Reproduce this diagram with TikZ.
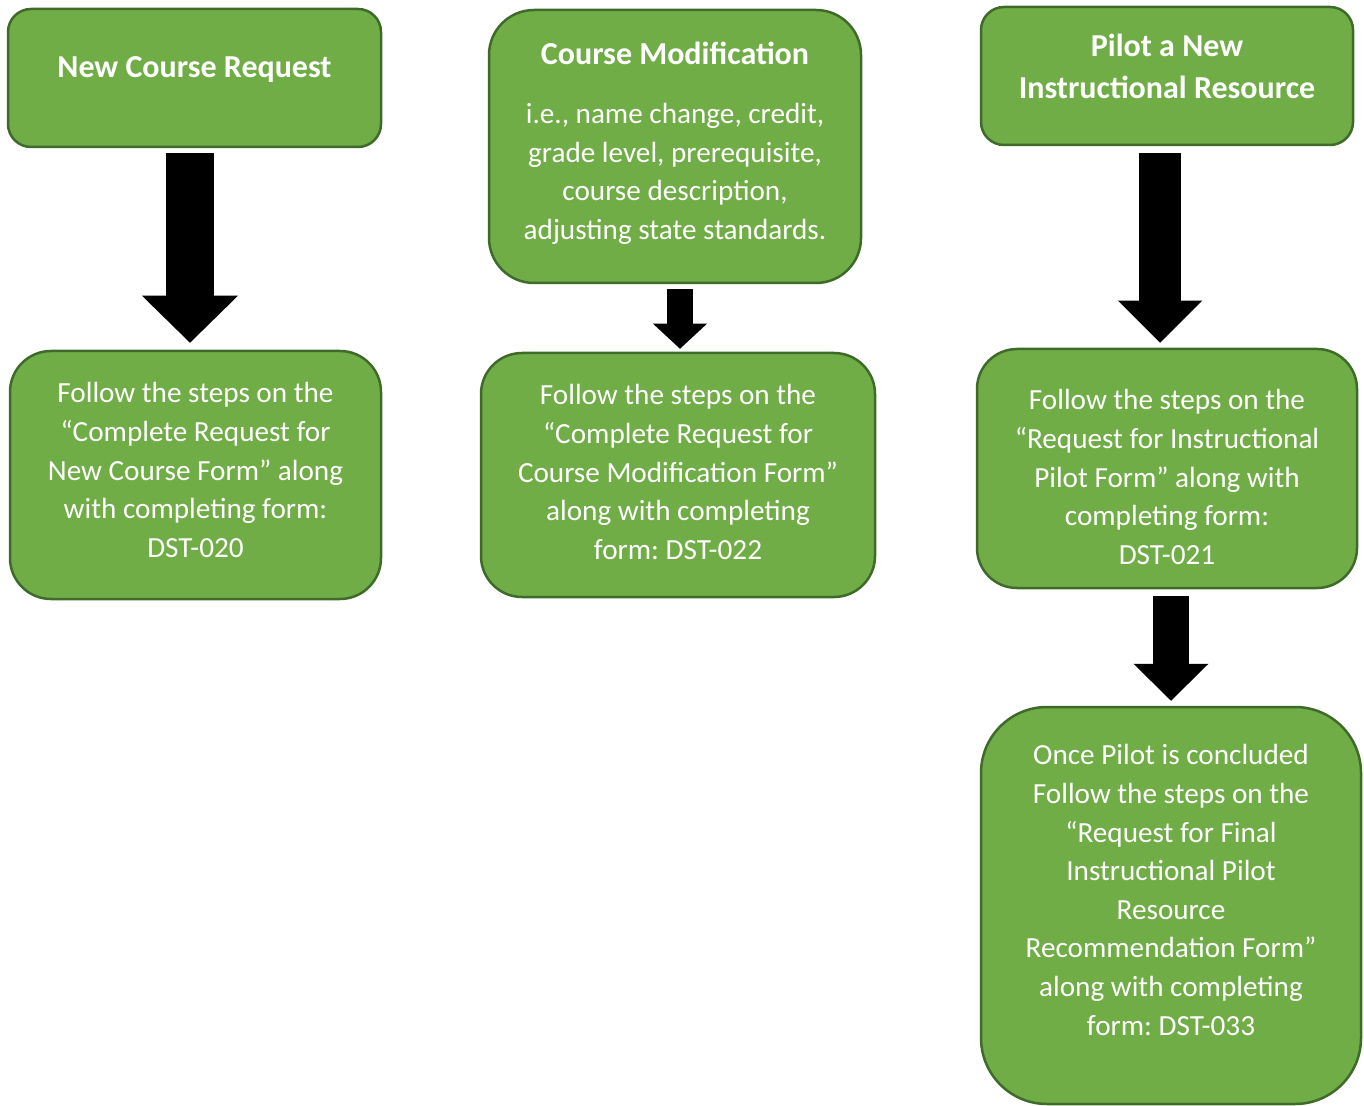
\documentclass[tikz,border=0pt]{standalone}
\usepackage{fontspec}
\setmainfont{Carlito}
\usepackage{xcolor}
\usetikzlibrary{arrows.meta}
\frenchspacing

\definecolor{boxgreen}{HTML}{70AD47}
\definecolor{boxedge}{HTML}{3F6B2A}

\begin{document}
\begin{tikzpicture}[x=0.5pt,y=-0.5pt,
    panel/.style={draw=boxedge,fill=boxgreen,line width=1.25pt,inner sep=0pt},
    paneltext/.style={text=white,align=center,font=\fontsize{14.6}{19.3}\selectfont},
    headtext/.style={text=white,align=center,font=\fontsize{16}{21}\selectfont\bfseries},
    blockarrow/.style n args={3}{line width=#1,
        -{Triangle[width=#2,length=#3,line width=0pt]}}]
    \useasboundingbox (0,0) rectangle (1364,1106);

    % top row
    \node[panel,rounded corners=11.5pt,minimum width=186.5pt,minimum height=69pt] (newreq) at (194.5,78) {};
    \node[panel,rounded corners=22.5pt,minimum width=186pt,minimum height=136.5pt] (modreq) at (675,146.5) {};
    \node[panel,rounded corners=11.5pt,minimum width=186pt,minimum height=69pt] (pilotreq) at (1167,76) {};

    % second row
    \node[panel,rounded corners=20.5pt,minimum width=185.5pt,minimum height=124pt] (newform) at (195.5,475) {};
    \node[panel,rounded corners=20.5pt,minimum width=197pt,minimum height=122pt] (modform) at (678,475) {};
    \node[panel,rounded corners=20pt,minimum width=190pt,minimum height=119.5pt] (pilotform) at (1167,468.5) {};

    % last step of the pilot
    \node[panel,rounded corners=33pt,minimum width=190pt,minimum height=198.5pt] (finalform) at (1171,905.5) {};

    \node[headtext] (newreqtxt) at (194.5,70) {New Course Request};
    \node[headtext] (modreqtxt) at (675,53) {Course Modification};
    \node[paneltext] (modreqsub) at (675,174) {i.e., name change, credit,\\grade level, prerequisite,\\course description,\\adjusting state standards.};
    \node[headtext] (pilotreqtxt) at (1167,66) {Pilot a New\\Instructional Resource};

    \node[paneltext] (newformtxt) at (195.5,470) {Follow the steps on the\\“Complete Request for\\New Course Form” along\\with completing form:\\DST-020};
    \node[paneltext] (modformtxt) at (678,472) {Follow the steps on the\\“Complete Request for\\Course Modification Form”\\along with completing\\form: DST-022};
    \node[paneltext] (pilotformtxt) at (1167,477) {Follow the steps on the\\“Request for Instructional\\Pilot Form” along with\\completing form:\\DST-021};
    \node[paneltext] (finalformtxt) at (1171,890) {Once Pilot is concluded\\Follow the steps on the\\“Request for Final\\Instructional Pilot\\Resource\\Recommendation Form”\\along with completing\\form: DST-033};

    \draw[blockarrow={24pt}{48pt}{23.5pt}] ([xshift=-2.25pt,yshift=-2.5pt]newreq.south) -- ([xshift=-2.75pt,yshift=3.5pt]newform.north);
    \draw[blockarrow={13pt}{27pt}{12.5pt}] ([xshift=2.5pt,yshift=-2.5pt]modreq.south) -- ([xshift=1pt,yshift=1.5pt]modform.north);
    \draw[blockarrow={21pt}{42pt}{21pt}] ([xshift=-3.5pt,yshift=-3.5pt]pilotreq.south) -- ([xshift=-3.5pt,yshift=2.5pt]pilotform.north);
    \draw[blockarrow={18pt}{37.5pt}{18.5pt}] ([xshift=2pt,yshift=-3.5pt]pilotform.south) -- ([yshift=2.5pt]finalform.north);
\end{tikzpicture}
\end{document}
